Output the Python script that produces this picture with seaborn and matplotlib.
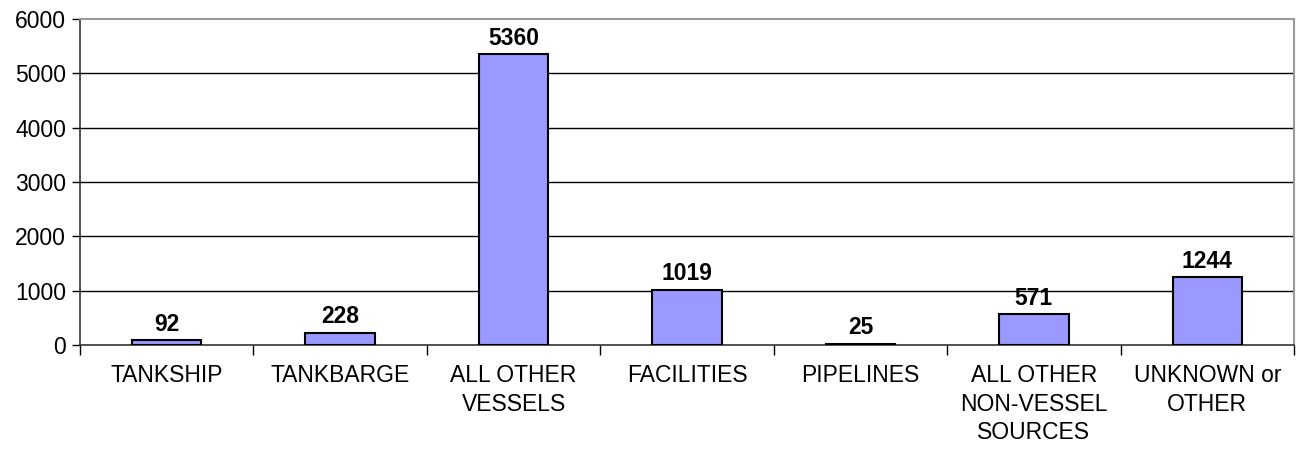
import matplotlib
matplotlib.use("Agg")
import matplotlib.pyplot as plt
import seaborn as sns
import pandas as pd
import numpy as np

# spill source categories and counts
categories = ['TANKSHIP', 'TANKBARGE', 'ALL OTHER\nVESSELS', 'FACILITIES', 'PIPELINES',
              'ALL OTHER\nNON-VESSEL\nSOURCES', 'UNKNOWN or\nOTHER']
counts = [92, 228, 5360, 1019, 25, 571, 1244]
y_ticks = [0, 1000, 2000, 3000, 4000, 5000, 6000]

df = pd.DataFrame({'source': categories, 'count': counts})

sns.set_style('white')
plt.rcParams['font.family'] = ['Liberation Sans', 'DejaVu Sans']
plt.rcParams['text.color'] = 'black'
plt.rcParams['xtick.color'] = 'black'
plt.rcParams['ytick.color'] = 'black'

fig = plt.figure(figsize=(12.99, 4.55), dpi=100)
ax = fig.add_axes([80 / 1299, 110 / 455, 1214 / 1299, 326 / 455])

sns.barplot(data=df, x='source', y='count', color='#9999FF', width=0.4,
            edgecolor='black', linewidth=1.5, saturation=1, ax=ax, zorder=3)

# value labels
for i, v in enumerate(counts):
    ax.annotate(str(v), (i, v), xytext=(0, 3), textcoords='offset points',
                ha='center', va='bottom', fontsize=16.5, fontweight='bold', color='black')

ax.set_ylim(0, 6000)
ax.set_xlim(-0.5, len(categories) - 0.5)
ax.set_yticks(y_ticks)
ax.set_yticklabels([str(t) for t in y_ticks], fontsize=16.5)
for t in y_ticks[1:-1]:
    ax.axhline(t, color='black', linewidth=1, zorder=1)

# x ticks at category boundaries, labels centred
ax.set_xticks(np.arange(-0.5, len(categories), 1))
ax.set_xticklabels([])
ax.set_xticks(range(len(categories)), minor=True)
ax.set_xticklabels(categories, minor=True, fontsize=16.5, linespacing=1.3)
ax.tick_params(axis='x', which='minor', length=0, pad=14)
ax.tick_params(axis='x', which='major', length=7, width=1, direction='out', bottom=True)
ax.tick_params(axis='y', length=6, width=1, direction='out', left=True, pad=4)
ax.set_xlabel('')
ax.set_ylabel('')

for side in ['left', 'bottom']:
    ax.spines[side].set_color('#333333')
    ax.spines[side].set_linewidth(1.2)
for side in ['top', 'right']:
    ax.spines[side].set_visible(True)
    ax.spines[side].set_color('#999999')
    ax.spines[side].set_linewidth(1.5)

fig.savefig('out.png', dpi=100)
